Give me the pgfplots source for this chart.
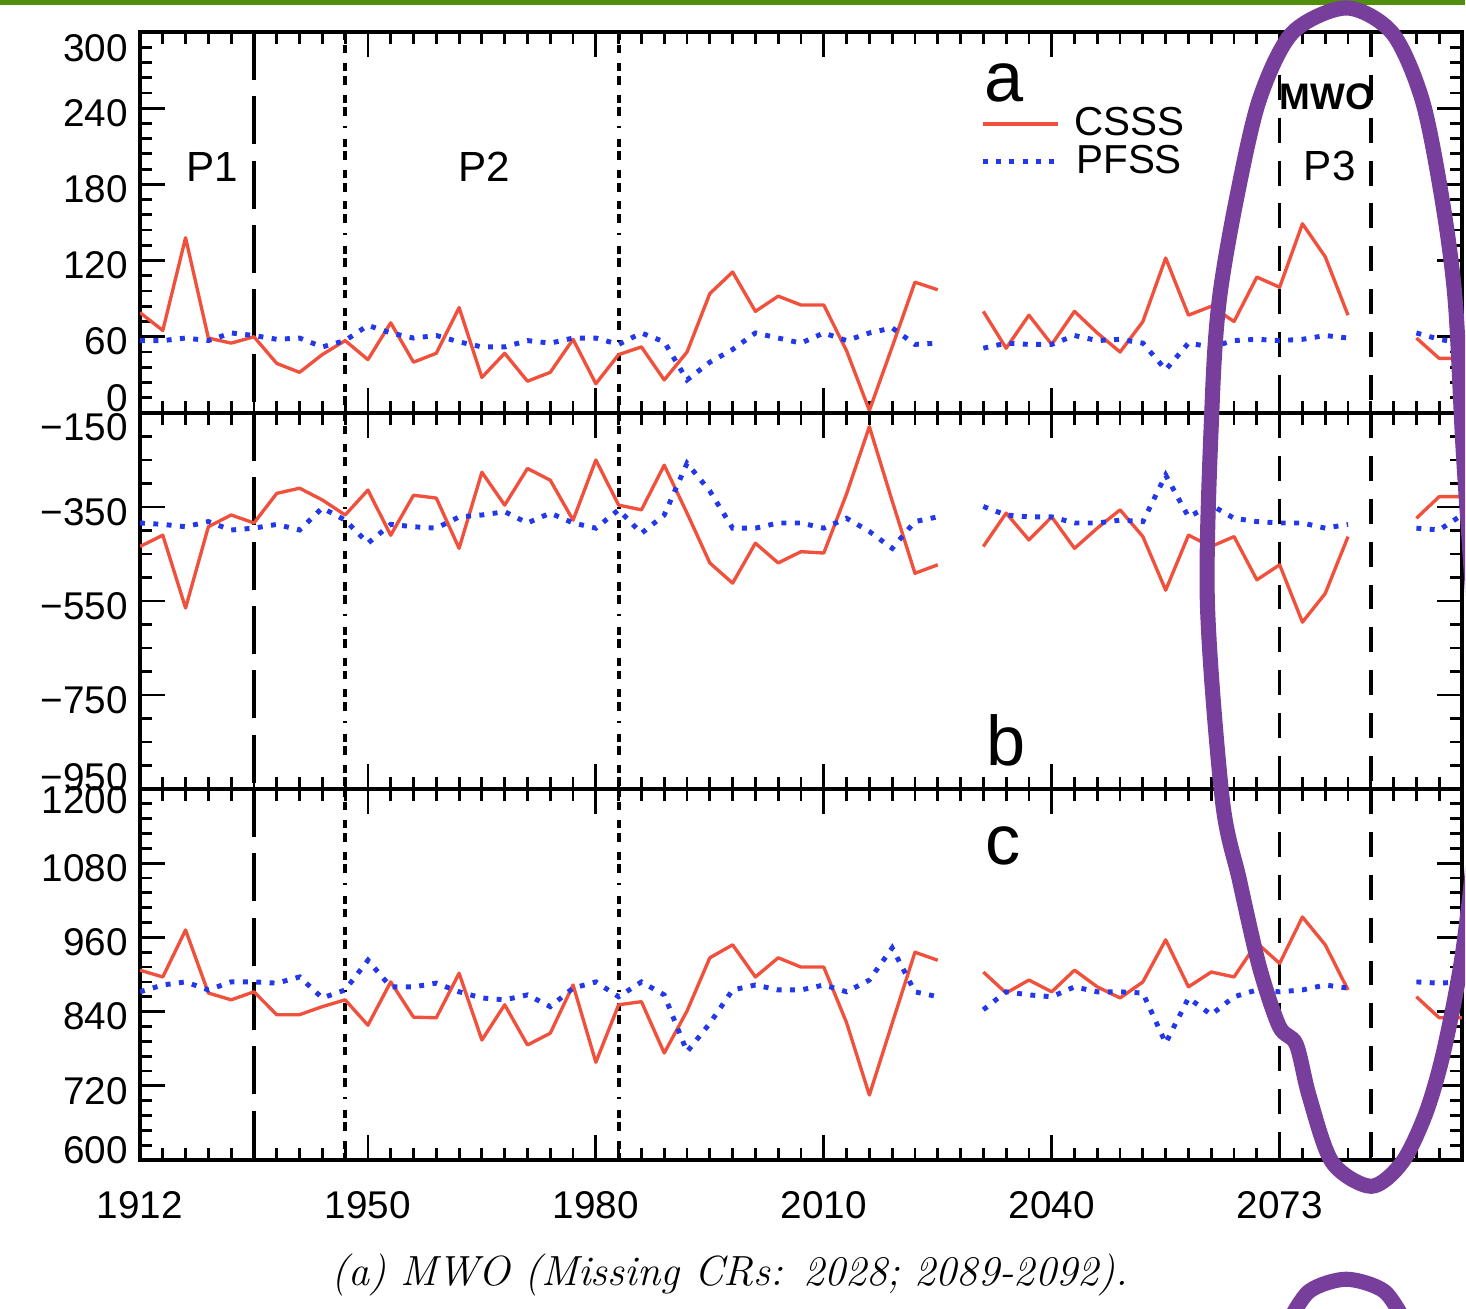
\documentclass[border=0pt]{standalone}
\usepackage{fontspec}
\newfontfamily\lsans{Liberation Sans}
\usepackage{pgfplots}
\pgfplotsset{compat=1.18}

\definecolor{cssscol}{RGB}{240,80,60}
\definecolor{pfsscol}{RGB}{35,55,235}
\definecolor{ringcol}{RGB}{120,62,155}
\definecolor{bargreen}{RGB}{80,142,12}

\newcommand{\ticfont}{\lsans\fontsize{11}{13}\selectfont}
\newcommand{\txtfont}{\lsans\fontsize{12}{14}\selectfont}

\tikzset{
  p1line/.style={line width=1pt, dash pattern=on 13.7pt off 4.6pt},
  dddline/.style={line width=1.1pt, dash pattern=on 2.3pt off 1.3pt on 2.5pt off 2.8pt on 2.3pt off 1.3pt on 2.5pt off 2.8pt on 2.3pt off 1.3pt on 2.5pt off 2.8pt on 0.7pt off 3pt},
  p3line/.style={line width=1pt, dash pattern=on 7.1pt off 5.1pt},
}

% period boundaries, drawn top to bottom
\newcommand{\periods}[2]{%
  \draw[p1line] (axis cs:5,#2) -- (axis cs:5,#1);
  \draw[dddline] (axis cs:9,#2) -- (axis cs:9,#1);
  \draw[dddline] (axis cs:21,#2) -- (axis cs:21,#1);
  \draw[p3line] (axis cs:50,#2) -- (axis cs:50,#1);
  \draw[p3line] (axis cs:54,#2) -- (axis cs:54,#1);
}

\pgfplotsset{
  panel/.style={
    scale only axis, width=13.22cm,
    xmin=0, xmax=58,
    xtick={0,10,...,50}, minor xtick={1,...,58},
    tick align=inside, xtick pos=both, ytick pos=both,
    major tick length=0.25cm, minor tick length=0.12cm,
    tick style={black, line width=0.8pt},
    axis line style={line width=1.1pt},
    tick label style={font=\ticfont},
    yticklabel style={yshift=-1.4pt},
    unbounded coords=jump,
  },
  csss/.style={cssscol, line width=0.95pt, line join=round},
  pfss/.style={pfsscol, line width=1.4pt, dash pattern=on 1.4pt off 2.4pt},
}

\begin{document}
\begin{tikzpicture}
\useasboundingbox (0,0) rectangle (14.66,13.09);

% ---- panel a ----
\begin{axis}[panel, at={(1.40cm,8.96cm)}, anchor=south west, height=3.81cm,
  ymin=0, ymax=300, ytick={0,60,...,300}, minor ytick={12,24,...,288},
  yticklabels={{\raisebox{5.7pt}[\height][0pt]{0}},60,120,180,240,{\raisebox{-3.1pt}[\height][0pt]{300}}},
  xticklabels={},
  legend style={at={(0.635,0.823)}, anchor=north west, draw=none, fill=none,
    inner sep=0pt, font=\lsans\fontsize{11.5}{13}\selectfont, row sep=-2.8pt,
    /tikz/every odd column/.append style={column sep=2pt}},
  legend image code/.code={\draw[#1] (0cm,0cm) -- (0.75cm,0cm);},
]
\periods{0}{300}
\addplot[csss] coordinates {
 (0,79)(1,65)(2,138)(3,59)(4,55)(5,60)(6,39)(7,32)(8,46)(9,57)(10,42)(11,71)(12,40)(13,47)(14,83)
 (15,28)(16,47)(17,25)(18,32)(19,58)(20,23)(21,46)(22,52)(23,26)(24,48)(25,94)(26,111)(27,80)(28,92)
 (29,85)(30,85)(31,49)(32,2)(33,52)(34,103)(35,97)(36,nan)(37,80)(38,51)(39,77)(40,54)(41,80)(42,63)
 (43,48)(44,72)(45,122)(46,77)(47,84)(48,72)(49,107)(50,99)(51,149)(52,123)(53,77)(54,nan)
 (56,59)(57,43)(58,43)};
\addplot[pfss] coordinates {
 (0,57)(1,57)(2,59)(3,57)(4,63)(5,61)(6,58)(7,59)(8,52)(9,57)(10,69)(11,63)(12,59)(13,61)(14,56)
 (15,52)(16,52)(17,57)(18,55)(19,59)(20,59)(21,54)(22,63)(23,56)(24,26)(25,40)(26,50)(27,63)(28,59)
 (29,55)(30,63)(31,57)(32,63)(33,67)(34,54)(35,55)(36,nan)(37,51)(38,55)(39,54)(40,54)(41,61)(42,57)
 (43,58)(44,55)(45,34)(46,55)(47,52)(48,57)(49,58)(50,57)(51,58)(52,61)(53,59)(54,nan)
 (56,63)(57,58)(58,55)};
\legend{CSSS,PFSS}
\node[font=\txtfont] at (axis cs:3.16,194) {P1};
\node[font=\txtfont] at (axis cs:15.1,194) {P2};
\node[font=\txtfont] at (axis cs:52.2,194.5) {P3};
\node[font=\lsans\bfseries\fontsize{10.5}{12}\selectfont] at (axis cs:52.06,249) {MWO};
\node[font=\lsans\fontsize{20}{22}\selectfont] at (axis cs:37.9,260) {a};
\end{axis}

% ---- panel b ----
\begin{axis}[panel, at={(1.40cm,5.20cm)}, anchor=south west, height=3.76cm,
  ymin=-950, ymax=-150, ytick={-950,-750,...,-150}, minor ytick={-900,-850,...,-200},
  yticklabels={{\raisebox{4.8pt}[\height][0pt]{−950}},−750,−550,−350,{\raisebox{-2.6pt}[\height][0pt]{−150}}},
  xticklabels={},
]
\periods{-950}{-150}
\addplot[csss] coordinates {
 (0,-434)(1,-410)(2,-565)(3,-392)(4,-367)(5,-384)(6,-321)(7,-310)(8,-335)(9,-367)(10,-314)(11,-410)
 (12,-325)(13,-331)(14,-438)(15,-276)(16,-346)(17,-268)(18,-293)(19,-378)(20,-250)(21,-346)(22,-356)
 (23,-261)(24,-363)(25,-469)(26,-512)(27,-427)(28,-469)(29,-445)(30,-448)(31,-322)(32,-179)(33,-337)
 (34,-491)(35,-473)(36,nan)(37,-434)(38,-363)(39,-420)(40,-371)(41,-438)(42,-395)(43,-356)(44,-413)
 (45,-527)(46,-410)(47,-434)(48,-413)(49,-505)(50,-473)(51,-595)(52,-534)(53,-413)(54,nan)
 (56,-374)(57,-328)(58,-328)};
\addplot[pfss] coordinates {
 (0,-384)(1,-387)(2,-392)(3,-381)(4,-399)(5,-395)(6,-387)(7,-399)(8,-352)(9,-378)(10,-427)(11,-387)
 (12,-392)(13,-395)(14,-371)(15,-367)(16,-360)(17,-384)(18,-363)(19,-384)(20,-395)(21,-356)(22,-406)
 (23,-367)(24,-257)(25,-316)(26,-395)(27,-395)(28,-384)(29,-384)(30,-395)(31,-374)(32,-402)(33,-438)
 (34,-381)(35,-371)(36,nan)(37,-349)(38,-367)(39,-371)(40,-371)(41,-384)(42,-384)(43,-378)(44,-381)
 (45,-282)(46,-371)(47,-346)(48,-374)(49,-381)(50,-384)(51,-384)(52,-395)(53,-387)(54,nan)
 (56,-395)(57,-399)(58,-367)};
\node[font=\lsans\fontsize{20}{22}\selectfont] at (axis cs:38.0,-846) {b};
\end{axis}

% ---- panel c ----
\begin{axis}[panel, at={(1.40cm,1.49cm)}, anchor=south west, height=3.71cm,
  ymin=600, ymax=1200, ytick={600,720,...,1200}, minor ytick={624,648,...,1176},
  yticklabels={{\raisebox{4.2pt}[\height][0pt]{600}},720,840,960,1080,{\raisebox{-1.7pt}[\height][0pt]{1200}}},
  xticklabels={1912,1950,1980,2010,2040,2073},
  xticklabel style={yshift=-5.3pt},
]
\periods{600}{1200}
\addplot[csss] coordinates {
 (0,907)(1,896)(2,972)(3,870)(4,859)(5,872)(6,835)(7,835)(8,848)(9,859)(10,818)(11,888)(12,831)
 (13,830)(14,902)(15,794)(16,851)(17,786)(18,805)(19,883)(20,758)(21,851)(22,856)(23,773)(24,841)
 (25,927)(26,948)(27,896)(28,927)(29,912)(30,912)(31,822)(32,705)(33,821)(34,936)(35,923)(36,nan)
 (37,904)(38,870)(39,891)(40,872)(41,907)(42,880)(43,862)(44,888)(45,956)(46,880)(47,904)(48,896)
 (49,951)(50,918)(51,993)(52,948)(53,875)(54,nan)(56,864)(57,830)(58,830)};
\addplot[pfss] coordinates {
 (0,872)(1,883)(2,888)(3,875)(4,888)(5,888)(6,886)(7,896)(8,862)(9,875)(10,923)(11,880)(12,880)
 (13,886)(14,872)(15,862)(16,859)(17,867)(18,848)(19,878)(20,888)(21,864)(22,888)(23,867)(24,775)
 (25,821)(26,875)(27,883)(28,875)(29,875)(30,883)(31,872)(32,891)(33,943)(34,872)(35,864)(36,nan)
 (37,843)(38,872)(39,867)(40,864)(41,880)(42,872)(43,872)(44,870)(45,789)(46,862)(47,835)(48,864)
 (49,875)(50,872)(51,875)(52,883)(53,878)(54,nan)(56,888)(57,886)(58,888)};
\node[font=\lsans\fontsize{20}{22}\selectfont] at (axis cs:37.85,1108) {c};
\end{axis}

% ---- caption and screenshot marks, in pixel units ----
\begin{scope}[x=0.01cm, y=-0.01cm, yshift=13.09cm]
\clip (0,0) rectangle (1466,1309);
\fill[bargreen] (0,0) rectangle (1466,5);
\node[font=\fontsize{12}{14}\selectfont\itshape] at (730,1276) {(a) MWO (Missing CRs: 2028; 2089-2092).};
\draw[ringcol, line width=4.3pt] plot[smooth cycle] coordinates {
  (1347,8) (1393,33) (1423,100) (1443,200) (1456,300) (1464,450) (1477,660) (1477,820)
  (1464,950) (1445,1050) (1427,1113) (1403,1163) (1372,1187) (1333,1163) (1310,1097) (1297,1045)
  (1280,1027) (1260,967) (1240,880) (1223,800) (1208,600) (1213,400) (1220,300)
  (1237,200) (1260,100) (1293,33)};
\draw[ringcol, line width=4.3pt] plot[smooth] coordinates {
  (1288,1325) (1310,1292) (1347,1280) (1385,1292) (1407,1325)};
\end{scope}
\end{tikzpicture}
\end{document}
